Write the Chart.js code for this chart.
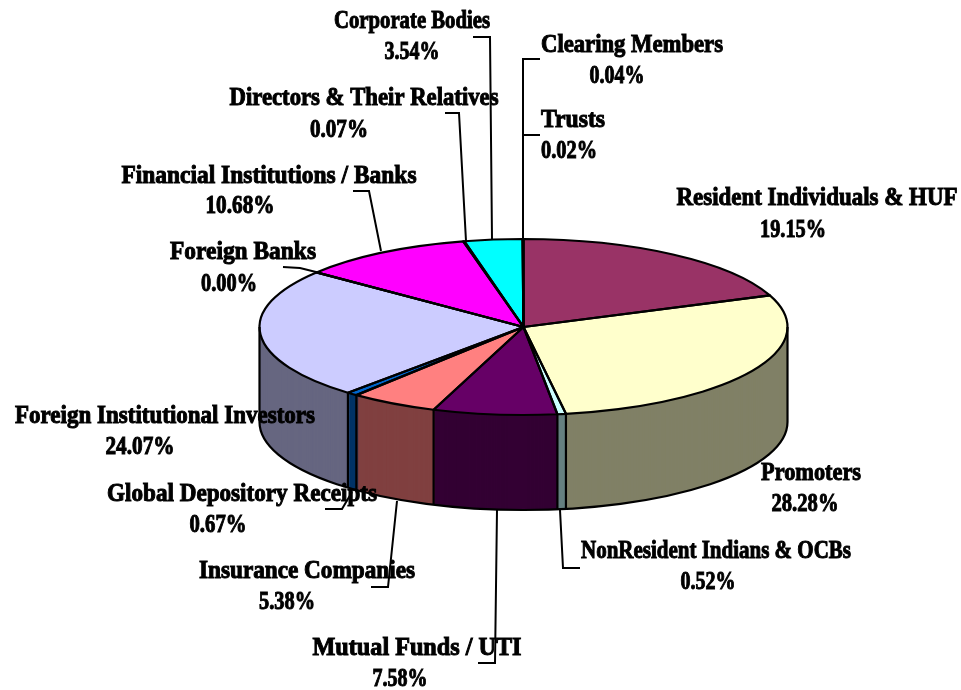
<!DOCTYPE html>
<html><head><meta charset="utf-8">
<style>html,body{margin:0;padding:0;background:#fff}canvas{display:block}</style>
<script src="https://cdn.jsdelivr.net/npm/chart.js@4"></script></head>
<body><canvas id="c" width="961" height="690"></canvas>
<script>
const categories = ["Resident Individuals & HUF","Promoters","NonResident Indians & OCBs","Mutual Funds / UTI","Insurance Companies","Global Depository Receipts","Foreign Institutional Investors","Foreign Banks","Financial Institutions / Banks","Directors & Their Relatives","Corporate Bodies","Clearing Members","Trusts"];
const shares = [19.15,28.28,0.52,7.58,5.38,0.67,24.07,0.00,10.68,0.07,3.54,0.04,0.02];
const topColors = ["#993366","#FFFFCC","#CCFFFF","#660066","#FF8080","#0066CC","#CCCCFF","#800000","#FF00FF","#FFFF00","#00FFFF","#008080","#0000FF"];
const sideColors = ["#4D1A33","#808066","#668080","#330033","#804040","#003366","#666680","#400000","#800080","#808000","#008080","#004040","#000080"];

// Label layout: [category index, name cx, name baseline, name width, value cx, value baseline, value width]
const labelLayout = [
 [0,817,205,281,793,237,66],[1,811,480,100,805,511,67],[2,716,558,270,708,589,55],
 [3,417,655,209,400,686,55],[4,307,578,216,287,609,56],[5,242,501,270,218,532,57],
 [6,165,423,300,140,454,69],[7,243,259,146,229,291,56],[8,269,183,295,240,213,69],
 [9,364,105,269,339,137,58],[10,412,28,156,412,59,55],[11,632,52,182,617,83,55],[12,573,127,64,569,158,56]
];
const leaderLines = [
 [[473,37],[490,37],[492,239]],[[540,59],[523,59],[523,239]],[[540,135],[523,135]],
 [[445,113],[459,113],[466,241]],[[353,191],[369,191],[381,251]],[[283,267],[300,268],[320,273]],
 [[325,509],[342,509],[352,492]],[[371,587],[388,587],[397,501]],[[478,663],[495,663],[497,510]],
 [[580,568],[563,568],[560,510]]
];
const CY = 327, RY = 88, DEPTH = 95;

const pie3d = {
 id:'pie3d',
 beforeDatasetDraw(chart){
  const ctx = chart.ctx, arcs = chart.getDatasetMeta(0).data;
  const a0 = arcs[0], sy = RY / a0.outerRadius;
  const squash = (off)=>{ ctx.translate(0, CY + off); ctx.scale(1, sy); ctx.translate(0, -a0.y); };
  for(let off = DEPTH; off > 0; off--){
   ctx.save(); squash(off);
   arcs.forEach((arc,i)=>{
    const saved = arc.options;
    arc.options = Object.assign({}, saved, {backgroundColor:sideColors[i], borderWidth:0});
    arc.draw(ctx);
    arc.options = saved;
   });
   ctx.restore();
  }
  ctx.save(); squash(0);
 },
 afterDatasetDraw(chart){ chart.ctx.restore(); },
 afterDatasetsDraw(chart){
  const ctx = chart.ctx, arcs = chart.getDatasetMeta(0).data;
  const cx = arcs[0].x, R = arcs[0].outerRadius;
  const px = a=>cx+R*Math.cos(a), py = a=>CY+RY*Math.sin(a);
  ctx.save();
  ctx.strokeStyle='#000'; ctx.lineWidth=2.2; ctx.lineJoin='round';
  ctx.beginPath(); ctx.ellipse(cx,CY+DEPTH,R,RY,0,0,Math.PI); ctx.stroke();
  ctx.beginPath();
  ctx.moveTo(cx+R,CY); ctx.lineTo(cx+R,CY+DEPTH);
  ctx.moveTo(cx-R,CY); ctx.lineTo(cx-R,CY+DEPTH);
  arcs.forEach(arc=>{
   const a=arc.endAngle, s=Math.sin(a);
   if(s>0){ ctx.moveTo(px(a),py(a)); ctx.lineTo(px(a),py(a)+DEPTH); }
  });
  ctx.stroke();
  arcs.forEach(arc=>{
   ctx.beginPath(); ctx.moveTo(cx,CY);
   ctx.ellipse(cx,CY,R,RY,0,arc.startAngle,arc.endAngle);
   ctx.closePath(); ctx.stroke();
  });
  ctx.lineWidth=2; ctx.lineJoin='miter';
  leaderLines.forEach(p=>{
   ctx.beginPath(); ctx.moveTo(p[0][0],p[0][1]);
   p.slice(1).forEach(q=>ctx.lineTo(q[0],q[1])); ctx.stroke();
  });
  ctx.font='bold 25px "Liberation Serif"'; ctx.textAlign='center'; ctx.textBaseline='alphabetic';
  ctx.fillStyle='#000'; ctx.lineWidth=1;
  const put=(t,x,y,w)=>{ ctx.fillText(t,x,y,w); ctx.strokeText(t,x,y,w); };
  labelLayout.forEach(l=>{
   const i=l[0];
   put(categories[i],l[1],l[2],l[3]);
   put(shares[i].toFixed(2)+'%',l[4],l[5],l[6]);
  });
  ctx.restore();
 }
};

new Chart(document.getElementById('c'),{
 type:'pie',
 data:{labels:categories,datasets:[{data:shares,backgroundColor:topColors,borderWidth:0,radius:264,clip:false}]},
 options:{
  responsive:false,animation:false,
  layout:{padding:{left:86}},
  plugins:{legend:{display:false},tooltip:{enabled:false}}
 },
 plugins:[pie3d]
});
</script></body></html>
